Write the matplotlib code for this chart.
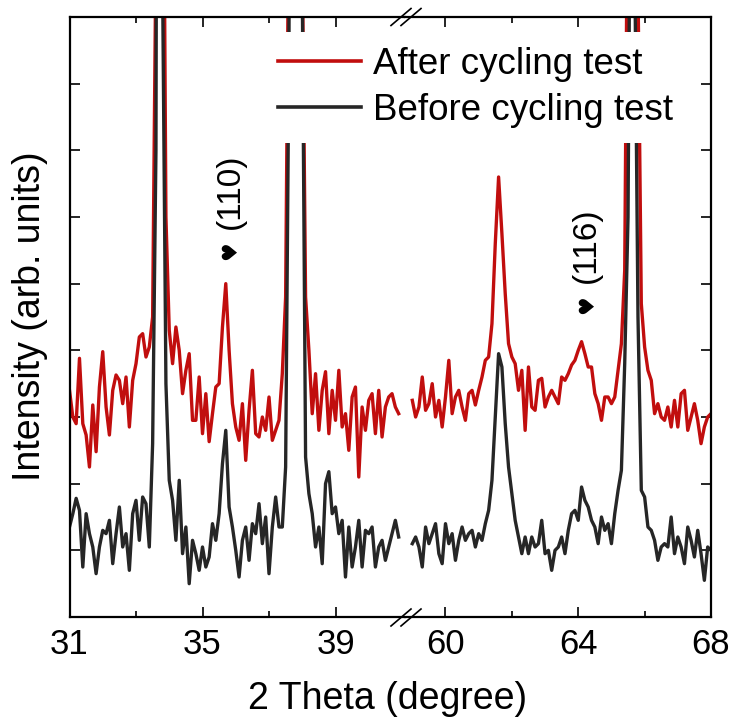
import numpy as np
import matplotlib
matplotlib.use('Agg')
import matplotlib.pyplot as plt

plt.rcParams['font.family'] = ['Liberation Sans', 'DejaVu Sans']

# 2 theta grid (degree), two windows of the broken axis
theta_low = np.round(np.arange(31.0, 40.95, 0.1), 1)
theta_high = np.round(np.arange(59.0, 68.05, 0.1), 1)

# intensity (arb. units)
after_low = [340, 300, 290, 388, 290, 273, 225, 318, 248, 345,
             398, 315, 273, 340, 363, 355, 320, 360, 285, 355,
             380, 420, 425, 390, 405, 450, 1000, 2500, 1400, 600,
             430, 380, 435, 400, 335, 370, 395, 295, 295, 360,
             275, 335, 263, 305, 345, 350, 435, 500, 400, 320,
             285, 265, 320, 235, 310, 370, 275, 270, 300, 280,
             330, 265, 280, 295, 365, 480, 1100, 2800, 3500, 2500,
             1000, 480, 400, 305, 365, 280, 340, 368, 275, 340,
             295, 370, 285, 305, 250, 330, 345, 210, 315, 280,
             325, 335, 275, 340, 270, 315, 330, 335, 315, 305]
before_low = [135, 155, 178, 160, 75, 155, 125, 105, 65, 105,
              130, 125, 145, 80, 125, 165, 105, 125, 70, 155,
              175, 115, 180, 170, 105, 260, 700, 3000, 950, 350,
              205, 175, 115, 205, 95, 135, 50, 115, 95, 70,
              105, 75, 90, 140, 115, 155, 230, 280, 165, 135,
              100, 60, 115, 135, 85, 140, 125, 170, 110, 150,
              65, 135, 180, 135, 135, 225, 850, 2500, 4000, 2200,
              950, 240, 185, 155, 105, 135, 80, 200, 218, 155,
              165, 125, 145, 60, 135, 75, 105, 145, 75, 130,
              125, 135, 75, 105, 115, 85, 105, 125, 145, 120]
after_high = [325, 300, 315, 360, 310, 320, 350, 300, 325, 285,
              330, 385, 305, 330, 340, 315, 295, 335, 340, 318,
              340, 360, 385, 390, 440, 560, 660, 575, 485, 410,
              390, 380, 340, 370, 280, 375, 315, 310, 355, 358,
              315, 330, 340, 330, 320, 360, 355, 365, 378, 385,
              400, 413, 395, 375, 375, 335, 320, 295, 330, 330,
              320, 330, 370, 410, 520, 1200, 3000, 3500, 950, 470,
              405, 370, 355, 305, 320, 300, 295, 315, 285, 325,
              285, 335, 340, 280, 300, 320, 295, 260, 285, 300,
              305]
before_high = [110, 120, 105, 75, 135, 110, 125, 140, 95, 80,
               140, 110, 125, 85, 115, 135, 115, 125, 130, 105,
               125, 115, 140, 160, 205, 300, 395, 375, 290, 225,
               185, 145, 120, 95, 120, 95, 120, 105, 110, 145,
               95, 100, 70, 100, 105, 120, 95, 130, 155, 160,
               145, 195, 175, 165, 145, 135, 110, 150, 130, 140,
               110, 155, 190, 220, 380, 600, 1400, 1000, 450, 190,
               180, 135, 130, 115, 85, 105, 110, 105, 150, 95,
               120, 105, 80, 135, 115, 90, 130, 95, 55, 105,
               100]

labels = ['After cycling test', 'Before cycling test']
red = '#C10E0E'
black = '#262626'
lw = 2.4

W, H = 733, 721
fig = plt.figure(figsize=(W / 100, H / 100), dpi=100)
x0, x1, xb = 69.5 / W, 711 / W, 405 / W
y0, y1 = 1 - 617 / H, 1 - 17 / H
ax1 = fig.add_axes([x0, y0, xb - x0, y1 - y0])
ax2 = fig.add_axes([xb, y0, x1 - xb, y1 - y0])

ax1.plot(theta_low, after_low, color=red, lw=lw, label=labels[0])
ax1.plot(theta_low, before_low, color=black, lw=lw, label=labels[1])
ax2.plot(theta_high, after_high, color=red, lw=lw)
ax2.plot(theta_high, before_high, color=black, lw=lw)

ax1.set_xlim(31, 41.09)
ax2.set_xlim(58.78, 68)
for ax in (ax1, ax2):
    ax.set_ylim(0, 900)
    ax.set_yticks(np.arange(0, 901, 100))
    ax.set_yticklabels([])
    for s in ax.spines.values():
        s.set_linewidth(1.6)
    ax.tick_params(which='both', direction='in', top=True, bottom=True,
                   width=1.2, labelsize=25, pad=8)
    ax.tick_params(which='major', length=7)
    ax.tick_params(which='minor', length=4)

ax1.set_xticks([31, 35, 39])
ax1.set_xticks([33, 37], minor=True)
ax2.set_xticks([60, 64, 68])
ax2.set_xticks([62, 66], minor=True)
ax1.spines['right'].set_visible(False)
ax2.spines['left'].set_visible(False)
ax1.tick_params(which='both', left=True, right=False)
ax2.tick_params(which='both', left=False, right=True)

# break marks on top and bottom spines
for yy in (617.5, 17):
    for cx in (401, 411):
        fig.add_artist(plt.Line2D([(cx - 10) / W, (cx + 10) / W],
                                  [1 - (yy + 8.5) / H, 1 - (yy - 8.5) / H],
                                  color='black', lw=1.2))

# peak labels
ax1.text(35.83, 639, '(110)', rotation=90, fontsize=24, ha='center', va='center')
ax1.text(35.83, 550, '\u2665', rotation=90, fontsize=15, ha='center', va='center',
         family='DejaVu Sans')
ax2.text(64.26, 558, '(116)', rotation=90, fontsize=24, ha='center', va='center')
ax2.text(64.26, 468, '\u2665', rotation=90, fontsize=15, ha='center', va='center',
         family='DejaVu Sans')

leg = fig.legend(loc='upper left', bbox_to_anchor=(263 / W, 1 - 32 / H),
                 fontsize=26.5, frameon=True, fancybox=False, framealpha=1,
                 facecolor='white', edgecolor='none', handlelength=2.25,
                 handletextpad=0.33, labelspacing=0.31, borderpad=0.4,
                 borderaxespad=0)
for h in leg.get_lines():
    h.set_linewidth(2.6)

fig.text(388 / W, 1 - 699 / H, '2 Theta (degree)', fontsize=27,
         ha='center', va='center')
fig.text(30 / W, 1 - 316 / H, 'Intensity (arb. units)', fontsize=27,
         rotation=90, ha='center', va='center')

fig.savefig('out.png', dpi=100)
